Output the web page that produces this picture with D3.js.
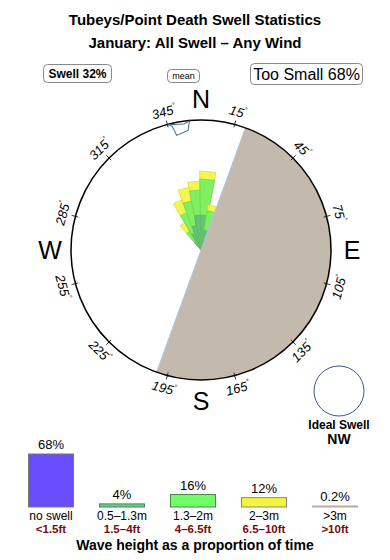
<!DOCTYPE html>
<html>
<head>
<meta charset="utf-8">
<script src="https://cdn.jsdelivr.net/npm/d3@7"></script>
<style>
  body { margin: 0; background: #fff; }
  svg { font-family: "Liberation Sans", Arial, sans-serif; }
</style>
</head>
<body>
<div id="chart"></div>
<script>
// Datos de la rosa (porcentaje de tiempo por dirección y banda)
const directions = [325, 335, 345, 355, 5, 15];
const band1 = [0.15, 0.49, 0.95, 1.85, 1.85, 0.6];   // 0.5-1.3m
const band2 = [0.58, 1.93, 2.84, 3.6, 5.78, 1.82];   // 1.3-2m
const band3 = [0.82, 1.99, 2.41, 1.76, 1.82, 0.78];  // 2-3m

// Datos de la leyenda
const legendCats = ["no swell", "0.5–1.3m", "1.3–2m", "2–3m", ">3m"];
const legendFt = ["<1.5ft", "1.5–4ft", "4–6.5ft", "6.5–10ft", ">10ft"];
const legendPct = [68, 4, 16, 12, 0.2];
const legendLabels = ["68%", "4%", "16%", "12%", "0.2%"];

const tickAngles = [15, 45, 75, 105, 135, 165, 195, 225, 255, 285, 315, 345];
const cardinals = [["N", 0], ["E", 90], ["S", 180], ["W", 270]];
const landFrom = 20, landTo = 200;
const meanDir = 350;

const width = 390, height = 560;
const cx = 201, cy = 250, R = 130;

const svg = d3.select("#chart").append("svg")
    .attr("width", width)
    .attr("height", height);

// Titulos
svg.append("text").attr("x", 195).attr("y", 25).attr("text-anchor", "middle")
    .attr("font-size", 15).attr("font-weight", "bold").text("Tubeys/Point Death Swell Statistics");
svg.append("text").attr("x", 195).attr("y", 48).attr("text-anchor", "middle")
    .attr("font-size", 15).attr("font-weight", "bold").text("January: All Swell – Any Wind");

// Cajas de texto
function box(x, y, w, h, txt, size, weight) {
    svg.append("rect").attr("x", x).attr("y", y).attr("width", w).attr("height", h)
        .attr("rx", 4).attr("fill", "#fff").attr("stroke", "#888").attr("stroke-width", 1);
    svg.append("text").attr("x", x + w / 2).attr("y", y + h / 2).attr("dy", "0.36em")
        .attr("text-anchor", "middle").attr("font-size", size).attr("font-weight", weight).text(txt);
}
box(43.5, 64.5, 68, 18, "Swell 32%", 12, "bold");
box(167.5, 69.5, 32, 13, "mean", 9, "normal");
box(250.5, 63.5, 112, 21, "Too Small 68%", 16, "normal");

// Compás
const g = svg.append("g").attr("transform", `translate(${cx},${cy})`);
const rad = d => (d - 90) * Math.PI / 180;
const px = (d, r) => r * Math.cos(rad(d));
const py = (d, r) => r * Math.sin(rad(d));

g.append("circle").attr("r", R).attr("fill", "#fff");

// Rosa de oleaje
const rScale = d3.scaleSqrt().domain([0, 10]).range([0, 81.3]);
const halfW = 6;
function wedge(d, r0, r1) {
    const a = d - halfW, b = d + halfW;
    return `M${px(a, r0)},${py(a, r0)}L${px(a, r1)},${py(a, r1)}L${px(b, r1)},${py(b, r1)}L${px(b, r0)},${py(b, r0)}Z`;
}
const bands = [
    { vals: band3, fill: "#f4f43c", stroke: "#d6cc3c" },
    { vals: band2, fill: "#72f064", stroke: "#5fcf5a" },
    { vals: band1, fill: "#5cbf78", stroke: "#55aa70" }
];
directions.forEach((d, i) => {
    const c1 = band1[i], c2 = c1 + band2[i], c3 = c2 + band3[i];
    const cums = [c3, c2, c1];
    bands.forEach((b, k) => {
        g.append("path").attr("d", wedge(d, 0, rScale(cums[k])))
            .attr("fill", b.fill).attr("fill-opacity", 0.9)
            .attr("stroke", b.stroke).attr("stroke-width", 0.6);
    });
});

// Tierra
const land = d3.arc().innerRadius(0).outerRadius(R)
    .startAngle(landFrom * Math.PI / 180).endAngle(landTo * Math.PI / 180);
g.append("path").attr("d", land()).attr("fill", "#c4b9ad");
g.append("line")
    .attr("x1", px(landFrom, R)).attr("y1", py(landFrom, R))
    .attr("x2", px(landTo, R)).attr("y2", py(landTo, R))
    .attr("stroke", "#a9c6e6").attr("stroke-width", 1);

g.append("circle").attr("r", R).attr("fill", "none").attr("stroke", "#000").attr("stroke-width", 1.5);

// Marcas y etiquetas
tickAngles.forEach(d => {
    g.append("line")
        .attr("x1", px(d, R - 3)).attr("y1", py(d, R - 3))
        .attr("x2", px(d, R + 4)).attr("y2", py(d, R + 4))
        .attr("stroke", "#000").attr("stroke-width", 0.8);
    const rot = (d > 90 && d < 270) ? d - 180 : (d > 180 ? d - 360 : d);
    const t = g.append("text")
        .attr("transform", `translate(${px(d, R + 13)},${py(d, R + 13)}) rotate(${rot})`)
        .attr("text-anchor", "middle").attr("dy", "0.35em")
        .attr("font-size", 13).attr("font-style", "italic");
    t.append("tspan").text(d);
    t.append("tspan").attr("font-size", 7).attr("dy", "-0.9em").text("°");
});

cardinals.forEach(([l, d]) => {
    g.append("text").attr("x", px(d, 151)).attr("y", py(d, 151)).attr("dy", "0.36em")
        .attr("text-anchor", "middle").attr("font-size", 25).text(l);
});

// Indicador de dirección media
const meanShape = [[-11, 0], [-7, 2], [-4, 12], [8, 9], [11, 0], [5, 2]];
g.append("polygon")
    .attr("points", meanShape.map(p => p.join(",")).join(" "))
    .attr("transform", `rotate(${meanDir}) translate(0,${-R + 1})`)
    .attr("fill", "#fff").attr("stroke", "#3a6a9a").attr("stroke-width", 1);

// Oleaje ideal
svg.append("circle").attr("cx", 339).attr("cy", 391).attr("r", 25)
    .attr("fill", "#fff").attr("stroke", "#3a5a80").attr("stroke-width", 1);
svg.append("text").attr("x", 339).attr("y", 429).attr("text-anchor", "middle")
    .attr("font-size", 12).attr("font-weight", "bold").text("Ideal Swell");
svg.append("text").attr("x", 339).attr("y", 444).attr("text-anchor", "middle")
    .attr("font-size", 14).attr("font-weight", "bold").text("NW");

// Leyenda de alturas
const xL = d3.scalePoint().domain(legendCats).range([51, 335]);
const hL = d3.scaleLinear().domain([0, 68]).range([0, 53]);
const baseY = 507, barW = 45;
const legFill = ["#6a4cff", "#66cc88", "#70ff66", "#f4f43a", "#bcaaa0"];
const legStroke = ["#777", "#3f8a5a", "#4a8a44", "#888", "#bcaaa0"];

legendCats.forEach((c, i) => {
    const h = Math.max(hL(legendPct[i]), 1);
    svg.append("rect").attr("x", xL(c) - barW / 2).attr("y", baseY - h)
        .attr("width", barW).attr("height", h)
        .attr("fill", legFill[i]).attr("stroke", legStroke[i]).attr("stroke-width", 1);
    svg.append("text").attr("x", xL(c)).attr("y", baseY - h - 5).attr("text-anchor", "middle")
        .attr("font-size", 13).text(legendLabels[i]);
    svg.append("text").attr("x", xL(c)).attr("y", 520).attr("text-anchor", "middle")
        .attr("font-size", 12).text(c);
    svg.append("text").attr("x", xL(c)).attr("y", 533).attr("text-anchor", "middle")
        .attr("font-size", 11.5).attr("font-weight", "bold").attr("fill", "#7a0a0a").text(legendFt[i]);
});

svg.append("text").attr("x", 195).attr("y", 550).attr("text-anchor", "middle")
    .attr("font-size", 14).attr("font-weight", "bold").text("Wave height as a proportion of time");
</script>
</body>
</html>
